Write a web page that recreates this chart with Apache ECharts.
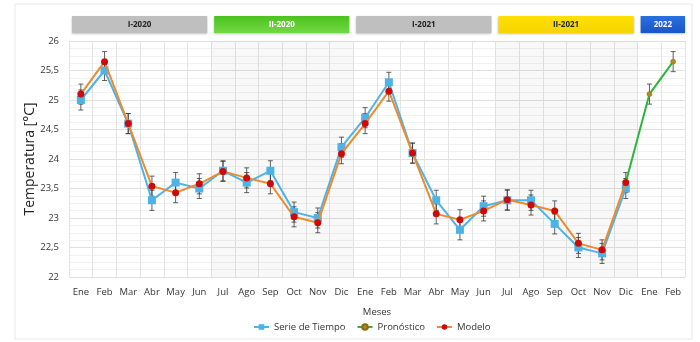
<!DOCTYPE html>
<html>
<head>
<meta charset="utf-8">
<script src="https://cdn.jsdelivr.net/npm/echarts@6/dist/echarts.min.js"></script>
<style>
  html, body { margin: 0; padding: 0; background: #fff; }
  #chart { width: 700px; height: 342px; }
</style>
</head>
<body>
<div id="chart"></div>
<script>
const months = ['Ene', 'Feb', 'Mar', 'Abr', 'May', 'Jun', 'Jul', 'Ago', 'Sep', 'Oct', 'Nov', 'Dic']
const categories = [
  ...months.map(m => m + ' 2020'),
  ...months.map(m => m + ' 2021'),
  'Ene 2022', 'Feb 2022'
]

const serieTiempo = [
  25.0, 25.5, 24.6, 23.3, 23.6, 23.5, 23.8, 23.6, 23.8, 23.1, 23.0, 24.2,
  24.7, 25.3, 24.1, 23.3, 22.8, 23.2, 23.3, 23.3, 22.9, 22.5, 22.4, 23.5,
  null, null
]
const modelo = [
  25.1, 25.65, 24.6, 23.54, 23.43, 23.58, 23.79, 23.68, 23.58, 23.02, 22.92, 24.09,
  24.6, 25.15, 24.1, 23.07, 22.97, 23.12, 23.31, 23.22, 23.12, 22.57, 22.46, 23.6,
  null, null
]
const pronostico = [
  null, null, null, null, null, null, null, null, null, null, null, null,
  null, null, null, null, null, null, null, null, null, null, null, 23.6,
  25.1, 25.65
]
const errMargin = 0.17

const yTicks = [22, 22.5, 23, 23.5, 24, 24.5, 25, 25.5, 26]

// periodos del encabezado
const periodLabels = ['I-2020', 'II-2020', 'I-2021', 'II-2021', '2022']
const periodStart = [0, 6, 12, 18, 24]
const periodEnd = [5, 11, 17, 23, 25]
const periodFill = ['#bfbfbf', ['#4cc21f', '#72d843'], '#bfbfbf', ['#ffe000', '#f5d400'], ['#2a6fe0', '#1a55c8']]
const periodText = ['#222', '#fff', '#222', '#222', '#fff']

// semestres sombreados (Jul-Dic)
const shadeStart = [6, 18]
const shadeEnd = [11, 23]

const FONT = '"Open Sans", "Noto Sans", sans-serif'

const errData = arr => arr.map((v, i) => v == null ? null : [i, v]).filter(Boolean)

const errorBars = (name, arr) => ({
  type: 'custom',
  name: name + '_err',
  z: 3,
  silent: true,
  data: errData(arr),
  renderItem: (params, api) => {
    const x = api.value(0)
    const v = api.value(1)
    const top = api.coord([x, v + errMargin])
    const bot = api.coord([x, v - errMargin])
    const cap = 2.5
    const style = { stroke: '#3a3a3a', lineWidth: 0.8 }
    return {
      type: 'group',
      children: [
        { type: 'line', shape: { x1: top[0], y1: top[1], x2: bot[0], y2: bot[1] }, style },
        { type: 'line', shape: { x1: top[0] - cap, y1: top[1], x2: top[0] + cap, y2: top[1] }, style },
        { type: 'line', shape: { x1: bot[0] - cap, y1: bot[1], x2: bot[0] + cap, y2: bot[1] }, style }
      ]
    }
  }
})

const chart = echarts.init(document.getElementById('chart'))

chart.setOption({
  animation: false,
  textStyle: { fontFamily: FONT },
  grid: { left: 69, right: 15, top: 41, bottom: 65 },
  legend: {
    bottom: 5,
    left: 248,
    itemWidth: 15,
    itemHeight: 7,
    itemGap: 11,
    textStyle: { fontSize: 9.5, color: '#333', fontFamily: FONT },
    data: ['Serie de Tiempo', 'Pronóstico', 'Modelo']
  },
  xAxis: [
    {
      type: 'category',
      data: categories,
      boundaryGap: true,
      name: 'Meses',
      nameLocation: 'middle',
      nameGap: 30,
      nameTextStyle: { fontSize: 9.5, color: '#333' },
      axisLine: { show: false },
      axisTick: { show: false },
      axisLabel: {
        interval: 0,
        margin: 10,
        fontSize: 9.5,
        color: '#333',
        formatter: v => v.split(' ')[0]
      },
      splitLine: { show: true, lineStyle: { color: '#e4e4e4', width: 1 } }
    },
    {
      type: 'value',
      min: 0,
      max: categories.length * 2,
      interval: 1,
      show: false,
      splitLine: { show: true, lineStyle: { color: '#f1f1f1', width: 1 } }
    }
  ],
  yAxis: {
    type: 'value',
    min: yTicks[0],
    max: yTicks[yTicks.length - 1],
    interval: 0.5,
    name: 'Temperatura [°C]',
    nameLocation: 'middle',
    nameGap: 32,
    nameMoveOverlap: false,
    nameTextStyle: { fontSize: 14, color: '#222' },
    axisLine: { show: false },
    axisTick: { show: false },
    axisLabel: {
      fontSize: 9.5,
      color: '#333',
      margin: 10,
      formatter: v => String(v).replace('.', ',')
    },
    splitLine: { lineStyle: { color: '#e0e0e0' } },
    minorTick: { show: false, splitNumber: 4 },
    minorSplitLine: { show: true, lineStyle: { color: '#f1f1f1' } }
  },
  series: [
    {
      type: 'line',
      name: 'shade',
      xAxisIndex: 1,
      data: [],
      silent: true,
      markArea: {
        silent: true,
        itemStyle: { color: 'rgba(0,0,0,0.028)' },
        data: shadeStart.map((s, i) => [{ xAxis: s * 2 }, { xAxis: (shadeEnd[i] + 1) * 2 }])
      }
    },
    errorBars('Serie de Tiempo', serieTiempo),
    errorBars('Modelo', modelo),
    errorBars('Pronóstico', pronostico.map((v, i) => i < 24 ? null : v)),
    {
      type: 'line',
      name: 'Serie de Tiempo',
      data: serieTiempo,
      z: 4,
      symbol: 'rect',
      symbolSize: 8,
      lineStyle: { color: '#4db3e6', width: 2 },
      itemStyle: { color: '#4db3e6' }
    },
    {
      type: 'line',
      name: 'Pronóstico',
      data: pronostico,
      z: 4,
      symbol: 'circle',
      symbolSize: 5,
      showSymbol: true,
      lineStyle: { color: '#2cb53c', width: 2 },
      itemStyle: { color: '#b58a1e', borderColor: '#8a6a10', borderWidth: 0.5 }
    },
    {
      type: 'line',
      name: 'Modelo',
      data: modelo,
      z: 5,
      symbol: 'circle',
      symbolSize: 7,
      lineStyle: { color: '#ee8a2e', width: 2 },
      itemStyle: { color: '#cc0a0a' }
    }
  ]
})

// encabezado de periodos y marco
const gfx = [
  {
    type: 'rect',
    shape: { x: 15, y: 4, width: 677, height: 335 },
    style: { fill: 'none', stroke: '#e8e8e8', lineWidth: 1 },
    silent: true
  }
]
periodLabels.forEach((label, i) => {
  const x0 = chart.convertToPixel({ xAxisIndex: 1 }, periodStart[i] * 2) + 3
  const x1 = chart.convertToPixel({ xAxisIndex: 1 }, (periodEnd[i] + 1) * 2) - (i === periodLabels.length - 1 ? 0 : 4)
  const fill = Array.isArray(periodFill[i])
    ? new echarts.graphic.LinearGradient(0, 0, 0, 1, [
        { offset: 0, color: periodFill[i][0] },
        { offset: 1, color: periodFill[i][1] }
      ])
    : periodFill[i]
  gfx.push({
    type: 'rect',
    shape: { x: x0, y: 16, width: x1 - x0, height: 17 },
    style: { fill, shadowBlur: 2, shadowOffsetY: 1, shadowColor: 'rgba(0,0,0,0.25)' },
    silent: true
  })
  gfx.push({
    type: 'text',
    x: (x0 + x1) / 2,
    y: 24.5,
    style: {
      text: label,
      fill: periodText[i],
      font: 'bold 8px ' + FONT,
      align: 'center',
      verticalAlign: 'middle'
    },
    silent: true
  })
})
chart.setOption({ graphic: gfx })
</script>
</body>
</html>
